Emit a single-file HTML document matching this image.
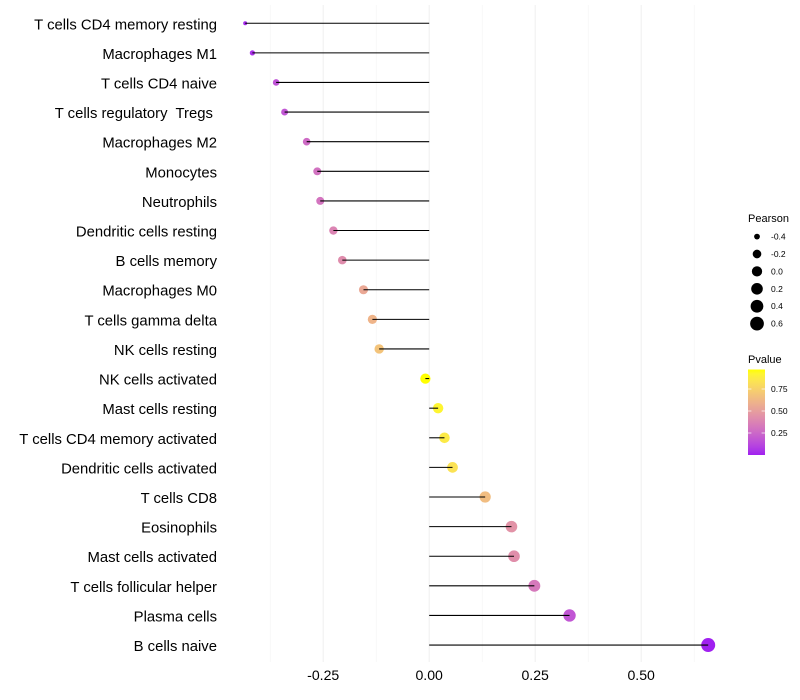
<!DOCTYPE html>
<html>
<head>
<meta charset="utf-8">
<title>Immune cell correlation lollipop chart</title>
<style>
html,body{margin:0;padding:0;background:#fff;width:800px;height:700px;overflow:hidden}
svg{display:block}
text{font-family:"Liberation Sans",sans-serif;white-space:pre}
</style>
</head>
<body>
<svg id="chart" width="800" height="700" viewBox="0 0 800 700" xmlns="http://www.w3.org/2000/svg">
<defs><linearGradient id="pg" x1="0" y1="1" x2="0" y2="0"></linearGradient></defs>
<g id="grid"></g>
<g id="ylabels"></g>
<g id="xlabels"></g>
<g id="dots"></g>
<g id="segs"></g>
<g id="legend"></g>
</svg>
<script>
const categories = ["T cells CD4 memory resting","Macrophages M1","T cells CD4 naive","T cells regulatory  Tregs ","Macrophages M2","Monocytes","Neutrophils","Dendritic cells resting","B cells memory","Macrophages M0","T cells gamma delta","NK cells resting","NK cells activated","Mast cells resting","T cells CD4 memory activated","Dendritic cells activated","T cells CD8","Eosinophils","Mast cells activated","T cells follicular helper","Plasma cells","B cells naive"];
const pearson = [-0.434,-0.417,-0.361,-0.341,-0.289,-0.264,-0.257,-0.226,-0.205,-0.155,-0.134,-0.118,-0.009,0.021,0.036,0.055,0.132,0.194,0.200,0.248,0.331,0.658];
const pvalue = [0.03,0.05,0.17,0.18,0.27,0.30,0.31,0.38,0.42,0.55,0.61,0.68,0.97,0.92,0.87,0.83,0.65,0.45,0.43,0.33,0.18,0.005];
const xTicks = [-0.25,0,0.25,0.5];
const xTickLabels = ["-0.25","0.00","0.25","0.50"];
const xMinorTicks = [-0.375,-0.125,0.125,0.375,0.625];
const sizeLegendValues = [-0.4,-0.2,0,0.2,0.4,0.6];
const sizeLegendLabels = ["-0.4","-0.2","0.0","0.2","0.4","0.6"];
const colorLegendValues = [0.25,0.5,0.75];
const colorLegendLabels = ["0.25","0.50","0.75"];

const NS = "http://www.w3.org/2000/svg";
function mk(parent, tag, attrs, txt){
  const e = document.createElementNS(NS, tag);
  for (const k in attrs) e.setAttribute(k, attrs[k]);
  if (txt !== undefined) e.textContent = txt;
  parent.appendChild(e);
  return e;
}
const xScale = v => 429.2 + v * 424;
const yScale = i => 23.25 + i * 29.61;
const rScale = v => 2 + 5 * Math.sqrt(Math.max(0, (v + 0.434) / 1.092));

function toLab(rgb){
  const l = rgb.map(c => { c/=255; return c>0.04045?Math.pow((c+0.055)/1.055,2.4):c/12.92; });
  const X=(0.4124*l[0]+0.3576*l[1]+0.1805*l[2])/0.95047,
        Y=(0.2126*l[0]+0.7152*l[1]+0.0722*l[2]),
        Z=(0.0193*l[0]+0.1192*l[1]+0.9505*l[2])/1.08883;
  const f=t=>t>0.008856?Math.cbrt(t):7.787*t+16/116;
  return [116*f(Y)-16,500*(f(X)-f(Y)),200*(f(Y)-f(Z))];
}
function fromLab(L){
  const fy=(L[0]+16)/116, fx=fy+L[1]/500, fz=fy-L[2]/200;
  const g=t=>t*t*t>0.008856?t*t*t:(t-16/116)/7.787;
  const X=g(fx)*0.95047,Y=g(fy),Z=g(fz)*1.08883;
  const r=[3.2406*X-1.5372*Y-0.4986*Z,-0.9689*X+1.8758*Y+0.0415*Z,0.0557*X-0.2040*Y+1.0570*Z];
  return "rgb("+r.map(c=>{c=c>0.0031308?1.055*Math.pow(c,1/2.4)-0.055:12.92*c;return Math.round(Math.min(1,Math.max(0,c))*255);}).join(",")+")";
}
const labLow = toLab([160,32,240]), labHigh = toLab([255,255,0]);
const pMin = 0.005, pMax = 0.97;
function colorOf(p){
  const t = Math.min(1, Math.max(0, (p - pMin) / (pMax - pMin)));
  return fromLab(labLow.map((v,i)=>v+(labHigh[i]-v)*t));
}

const grid = document.getElementById("grid");
xMinorTicks.forEach(v => {
  const l = mk(grid,"line",{x1:xScale(v),x2:xScale(v),y1:5,y2:662,stroke:"#f3f3f3","stroke-width":0.6});
  
  
});
xTicks.forEach(v => {
  const l = mk(grid,"line",{x1:xScale(v),x2:xScale(v),y1:5,y2:662,stroke:"#f0f0f0","stroke-width":1.07});
  
  
});

const ylab = document.getElementById("ylabels");
categories.forEach((c,i) => {
  const t = mk(ylab,"text",{x:217,y:yScale(i)+6,"text-anchor":"end","font-size":14.85,fill:"#000","xml:space":"preserve"},c);
  
  
});

const xlab = document.getElementById("xlabels");
xTicks.forEach((v,i) => {
  const t = mk(xlab,"text",{x:xScale(v),y:680,"text-anchor":"middle","font-size":14.1,fill:"#000"},xTickLabels[i]);
  
  
});

const dots = document.getElementById("dots");
const segs = document.getElementById("segs");
pearson.forEach((v,i) => {
  const d = mk(dots,"circle",{cx:xScale(v),cy:yScale(i),r:rScale(v),fill:colorOf(pvalue[i])});
  
  
  const s = mk(segs,"line",{x1:xScale(0),x2:xScale(v),y1:yScale(i),y2:yScale(i),stroke:"#000","stroke-width":1.07});
  
  
});

const legend = document.getElementById("legend");
const t1 = mk(legend,"text",{x:748,y:222,"font-size":11,fill:"#000"},"Pearson");


const legendY = i => 236.6 + i * 17.4;
sizeLegendValues.forEach((v,i) => {
  const c = mk(legend,"circle",{cx:757,cy:legendY(i),r:rScale(v),fill:"#000"});
  
  
  const t = mk(legend,"text",{x:771,y:legendY(i)+3,"font-size":8.5,fill:"#000"},sizeLegendLabels[i]);
  
  
});
const t2 = mk(legend,"text",{x:748,y:363,"font-size":11,fill:"#000"},"Pvalue");



const grad = document.getElementById("pg");
for (let k = 0; k <= 20; k++) {
  const p = pMin + (pMax - pMin) * k / 20;
  mk(grad,"stop",{offset:(k/20),"stop-color":colorOf(p)});
}
const bar = mk(legend,"rect",{x:748,y:369.5,width:17,height:85.5,fill:"url(#pg)"});


const legendP = p => 455 - p * 88;
colorLegendValues.forEach((p,i) => {
  const a = mk(legend,"line",{x1:748,x2:751.4,y1:legendP(p),y2:legendP(p),stroke:"#fff","stroke-width":0.7});
  
  
  const b = mk(legend,"line",{x1:761.6,x2:765,y1:legendP(p),y2:legendP(p),stroke:"#fff","stroke-width":0.7});
  
  
  const t = mk(legend,"text",{x:771,y:legendP(p)+3,"font-size":8.5,fill:"#000"},colorLegendLabels[i]);
  
  
});
</script>
</body>
</html>
